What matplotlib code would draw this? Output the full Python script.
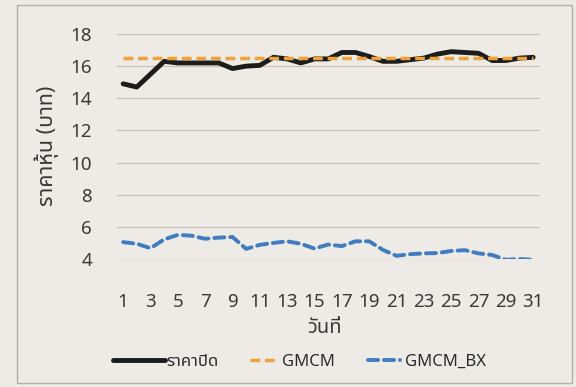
import matplotlib
matplotlib.use("Agg")
import matplotlib.pyplot as plt
from matplotlib import font_manager as fm
from matplotlib.ft2font import FT2Font
from matplotlib.patches import Rectangle

# ---------------- data ----------------
days = list(range(1, 32))
close_price = [14.9, 14.7, 15.5, 16.3, 16.2, 16.2, 16.2, 16.2, 15.85, 16.0,
               16.05, 16.55, 16.45, 16.2, 16.45, 16.45, 16.85, 16.85, 16.6, 16.3,
               16.3, 16.4, 16.5, 16.75, 16.9, 16.85, 16.8, 16.35, 16.35, 16.5, 16.55]
gmcm = [16.5] * 31
gmcm_bx = [5.05, 4.95, 4.67, 5.22, 5.5, 5.45, 5.26, 5.33, 5.37, 4.63,
           4.88, 5.0, 5.1, 4.95, 4.65, 4.9, 4.8, 5.1, 5.1, 4.57,
           4.2, 4.3, 4.35, 4.37, 4.5, 4.55, 4.35, 4.25, 3.95, 4.0, 3.95]
series_names = ["ราคาปิด", "GMCM", "GMCM_BX"]
y_ticks = [4, 6, 8, 10, 12, 14, 16, 18]
x_ticks = list(range(1, 32, 2))
x_label = "วันที่"
y_label = "ราคาหุ้น (บาท)"

# ---------------- fonts ----------------
thai_font = None
cands = []
for f in fm.fontManager.ttflist:
    try:
        cm = FT2Font(f.fname).get_charmap()
    except Exception:
        continue
    if 0x0E23 in cm and 0x0E49 in cm and 0x0E35 in cm:
        cands.append(f.name)
pref = ["Noto Sans Thai", "Tahoma", "Loma", "Garuda", "Sarabun", "Norasi"]
for p in pref:
    if p in cands:
        thai_font = p
        break
if thai_font is None and cands:
    thai_font = cands[0]
families = ["Noto Sans"] + ([thai_font] if thai_font else []) + ["DejaVu Sans"]
plt.rcParams["font.family"] = families

W, H = 576, 387
bg = "#eeebe6"
txt = "#3a3a3a"
fig = plt.figure(figsize=(W / 100, H / 100), dpi=100, facecolor=bg)
ax = fig.add_axes([117 / W, 1 - 259 / H, 423 / W, 225 / H])
ax.set_facecolor(bg)

l1, = ax.plot(days, close_price, color="#1c1c1c", lw=3.5, solid_joinstyle="round",
              solid_capstyle="round", zorder=3)
l2, = ax.plot(days, gmcm, color="#f0a23a", lw=2.5, dashes=(2.8, 1.4), zorder=4)
l3, = ax.plot(days, gmcm_bx, color="#3f7cc2", lw=2.8, dashes=(2.6, 1.5),
              dash_capstyle="round", zorder=3)

ax.set_xlim(0.55, 31.5)
ax.set_ylim(4, 18)
ax.set_yticks(y_ticks)
ax.set_xticks(x_ticks)
ax.grid(axis="y", color="#c6c2bd", lw=0.9)
ax.set_axisbelow(True)
for s in ax.spines.values():
    s.set_visible(False)
ax.tick_params(length=0, labelsize=13.5, colors=txt)
ax.tick_params(axis="y", pad=18)
ax.tick_params(axis="x", pad=24.5)

fig.text(325 / W, 1 - 328 / H, x_label, fontsize=14.5, color=txt, ha="center", va="center")
fig.text(47 / W, 1 - 146 / H, y_label, fontsize=15.5, color=txt, ha="center", va="center",
         rotation=90)

# legend: one entry per legend so handle lengths can differ
entries = [(l1, series_names[0], 113, 3.1, 0.12),
           (l2, series_names[1], 250, 1.6, 0.3),
           (l3, series_names[2], 368, 1.9, 0.3)]
for h, name, x0, hl, tp in entries:
    lg = fig.legend([h], [name], loc="center left", bbox_to_anchor=(x0 / W, 1 - 362 / H),
                    frameon=False, fontsize=12, handlelength=hl, handletextpad=tp,
                    borderpad=0, borderaxespad=0)
    for t in lg.get_texts():
        t.set_color("#2a2a2a")
        t.set_fontweight("bold")

fig.patches.append(Rectangle((17 / W, 1 - 383 / H), 555 / W, 378 / H,
                             transform=fig.transFigure, fill=False,
                             edgecolor="#b3afaa", lw=1.0))

fig.savefig("out.png", dpi=100, facecolor=bg)
